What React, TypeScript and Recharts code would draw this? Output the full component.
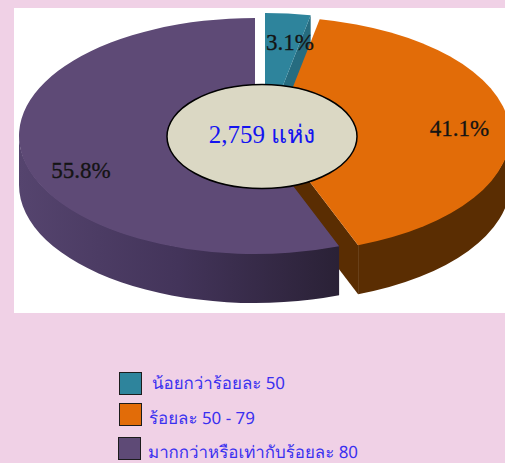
import { Legend, Pie, PieChart } from 'recharts';

const categories = ['น้อยกว่าร้อยละ 50', 'ร้อยละ 50 - 79', 'มากกว่าหรือเท่ากับร้อยละ 80'];
const shares = [3.1, 41.1, 55.8];
const totalLabel = '2,759 แห่ง';

const COLORS = ['#2E849C', '#E26C08', '#5E4A76'];
const CUT_COLORS = ['#266C80', '#5A2D02', '#3A2C4C'];
const SIDE_COLORS = ['#266C80', '#5A2D02', 'url(#purpleSide)'];
// how far each slice is pulled out of the pie
const EXPLODE = [[10, -5], [19, -1], [0, 0]];
const LABEL_SHIFT = [[7, 3], [2, 1], [7, 18]];
const LEGEND_ROWS = [
  { left: 119, top: 372, textLeft: 152, textTop: 371 },
  { left: 119, top: 403, textLeft: 149, textTop: 406 },
  { left: 118, top: 437, textLeft: 148, textTop: 440 },
];

const SQUASH = 0.5;
const DEPTH = 49;

const tableData = categories.map((name, i) => ({ name, value: shares[i], fill: COLORS[i] }));

const pt = (cx: number, cy: number, r: number, deg: number) => {
  const rad = (deg * Math.PI) / 180;
  return [cx + r * Math.cos(rad), cy - r * SQUASH * Math.sin(rad)];
};

function Slice3D(props: any) {
  const { cx, cy, outerRadius: r, startAngle, endAngle, fill, index } = props;
  const [dx, dy] = EXPLODE[index];
  const x = cx + dx;
  const y = cy + dy;
  const ry = r * SQUASH;
  const p1 = pt(x, y, r, startAngle);
  const p2 = pt(x, y, r, endAngle);
  const large = Math.abs(startAngle - endAngle) > 180 ? 1 : 0;
  const top = `M${x},${y} L${p1[0]},${p1[1]} A${r},${ry} 0 ${large} 1 ${p2[0]},${p2[1]} Z`;
  const cut = `M${x},${y} L${p2[0]},${p2[1]} L${p2[0]},${p2[1] + DEPTH} L${x},${y + DEPTH} Z`;

  // rim is only visible on the lower half of the ellipse
  const a = Math.min(startAngle, 0);
  const b = Math.max(endAngle, -180);
  let rim = null;
  if (a > b) {
    const s = pt(x, y, r, a);
    const e = pt(x, y, r, b);
    // upper arc pushed 1px under the top face so no seam shows
    rim = `M${s[0]},${s[1] - 1} A${r},${ry} 0 0 1 ${e[0]},${e[1] - 1} L${e[0]},${e[1] + DEPTH} A${r},${ry} 0 0 0 ${s[0]},${s[1] + DEPTH} Z`;
  }
  return (
    <g>
      <path d={cut} fill={CUT_COLORS[index]} />
      {rim && <path d={rim} fill={SIDE_COLORS[index]} />}
      <path d={top} fill={fill} />
    </g>
  );
}

function renderLabel(props: any) {
  const { cx, cy, outerRadius, midAngle, index } = props;
  const p = pt(cx + EXPLODE[index][0], cy + EXPLODE[index][1], outerRadius * 0.78, midAngle);
  return (
    <text
      x={p[0] + LABEL_SHIFT[index][0]}
      y={p[1] + LABEL_SHIFT[index][1]}
      textAnchor="middle"
      dominantBaseline="central"
      fontFamily="'Liberation Serif', serif"
      fontSize={23}
      stroke="#141414"
      strokeWidth={0.3}
      fill="#141414"
    >
      {shares[index].toFixed(1)}%
    </text>
  );
}

function LegendRows({ payload }: any) {
  return (
    <div style={{ position: 'relative', width: 505, height: 463 }}>
      {(payload || []).map((entry: any, i: number) => (
        <div key={entry.value}>
          <div
            style={{
              position: 'absolute',
              left: LEGEND_ROWS[i].left,
              top: LEGEND_ROWS[i].top,
              width: 21,
              height: 21,
              background: COLORS[i],
              border: '1.5px solid #1c1c1c',
            }}
          />
          <div
            style={{
              position: 'absolute',
              left: LEGEND_ROWS[i].textLeft,
              top: LEGEND_ROWS[i].textTop,
              height: 23,
              lineHeight: '23px',
              whiteSpace: 'nowrap',
              fontFamily: "'Noto Sans', sans-serif",
              fontSize: 16.9,
              textRendering: 'geometricPrecision',
              color: '#3A30F0',
            }}
          >
            {entry.value}
          </div>
        </div>
      ))}
    </div>
  );
}

export default function App() {
  return (
    <div style={{ position: 'fixed', left: 0, top: 0, width: 505, height: 463, background: '#F0D1E6', overflow: 'hidden' }}>
      <div style={{ position: 'absolute', left: 14, top: 8, width: 491, height: 305, background: '#fff' }} />
      <PieChart width={505} height={463} margin={{ top: 0, right: 0, bottom: 0, left: 0 }} style={{ position: 'absolute', left: 0, top: 0 }}>
        <defs>
          <linearGradient id="purpleSide" gradientUnits="userSpaceOnUse" x1={19} y1={0} x2={338} y2={0}>
            <stop offset="0%" stopColor="#55446E" />
            <stop offset="50%" stopColor="#43345A" />
            <stop offset="100%" stopColor="#2A2136" />
          </linearGradient>
        </defs>
        <Pie
          data={tableData}
          dataKey="value"
          nameKey="name"
          cx={255}
          cy={136}
          outerRadius={236}
          startAngle={90}
          endAngle={-270}
          paddingAngle={0}
          stroke="none"
          shape={Slice3D}
          label={renderLabel}
          labelLine={false}
          isAnimationActive={false}
        />
        <Legend
          content={LegendRows}
          itemSorter={null}
          wrapperStyle={{ left: 0, top: 0, width: 505, height: 463, bottom: 'auto' }}
        />
      </PieChart>
      {/* centre badge sits over the pie, recharts puts its series layer on top of plain children */}
      <svg width={505} height={463} style={{ position: 'absolute', left: 0, top: 0, pointerEvents: 'none' }}>
        <ellipse cx={262} cy={136.5} rx={95} ry={52} fill="#DBD8C4" stroke="#000" strokeWidth={1.5} />
        <text x={262} y={134} textAnchor="middle" dominantBaseline="central" fontFamily="'Liberation Serif', serif" fontSize={25} fill="#1414F0">
          {totalLabel}
        </text>
      </svg>
    </div>
  );
}
